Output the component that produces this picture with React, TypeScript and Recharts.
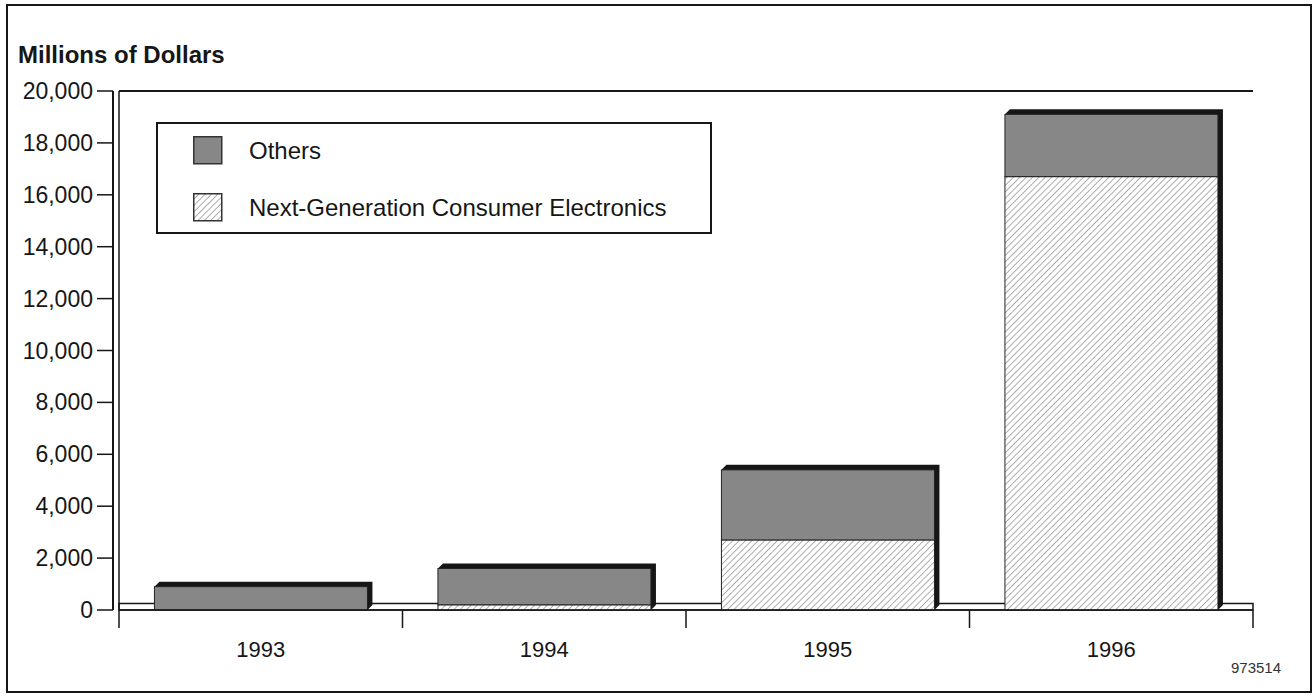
import { BarChart, Bar, XAxis, YAxis, Legend, ReferenceArea, ReferenceLine } from "recharts";

const years = ["1993", "1994", "1995", "1996"];
const nextGenValues = [0, 200, 2700, 16700];
const othersValues = [900, 1400, 2700, 2400];
const yTicks = [0, 2000, 4000, 6000, 8000, 10000, 12000, 14000, 16000, 18000, 20000];

const data = years.map((year, i) => ({
  year,
  nextGen: nextGenValues[i],
  others: othersValues[i],
}));

const FONT = "'Liberation Sans', Arial, Helvetica, sans-serif";
const INK = "#161616";
const OTHERS_FILL = "#878787";

// bar with a black depth shadow on top and right, like the old 3D print charts
function Bar3D(props: any) {
  const { x, y, width, height, fill } = props;
  if (!height || height <= 0) return null;
  const d = 5;
  const pts = `${x},${y} ${x + d},${y - d} ${x + width + d},${y - d} ${x + width + d},${y + height - d} ${x + width},${y + height}`;
  return (
    <g>
      <polygon points={pts} fill={INK} />
      <rect x={x} y={y} width={width} height={height} fill={fill} stroke="#222" strokeWidth={1} />
    </g>
  );
}

function YTick(props: any) {
  const { x, y, payload } = props;
  return (
    <text x={x} y={y} dy={8} textAnchor="end" fontSize={23} fontFamily={FONT} fill={INK}>
      {Number(payload.value).toLocaleString("en-US")}
    </text>
  );
}

function XTick(props: any) {
  const { x, y, payload, index } = props;
  const half = payload && payload.offset ? payload.offset : 142;
  const last = index === years.length - 1;
  return (
    <g>
      <line x1={x - half} x2={x - half} y1={y} y2={y + 18} stroke={INK} strokeWidth={1.5} />
      {last && <line x1={x + half} x2={x + half} y1={y} y2={y + 18} stroke={INK} strokeWidth={1.5} />}
      <text x={x} y={y + 47} textAnchor="middle" fontSize={22} fontFamily={FONT} fill={INK}>
        {payload.value}
      </text>
    </g>
  );
}

function LegendBox() {
  const item = (top: number, label: string, hatch: boolean) => (
    <div style={{ position: "absolute", left: 35, top, display: "flex", alignItems: "center" }}>
      <svg width={30} height={29} style={{ display: "block" }}>
        <defs>
          <pattern id="legendHatch" patternUnits="userSpaceOnUse" width={4.5} height={4.5} patternTransform="rotate(45)">
            <rect width={4.5} height={4.5} fill="#fff" />
            <line x1={0} y1={0} x2={0} y2={4.5} stroke="#777" strokeWidth={1.2} />
          </pattern>
        </defs>
        <rect x={0.75} y={0.75} width={28} height={27} fill={hatch ? "url(#legendHatch)" : OTHERS_FILL} stroke="#333" strokeWidth={1.5} />
      </svg>
      <span style={{ marginLeft: 26, fontSize: 24, fontFamily: FONT, color: INK, whiteSpace: "nowrap" }}>{label}</span>
    </div>
  );
  return (
    <div style={{ position: "relative", width: 552, height: 108, border: `2px solid ${INK}`, background: "#fff" }}>
      {item(12, "Others", false)}
      {item(69, "Next-Generation Consumer Electronics", true)}
    </div>
  );
}

export default function App() {
  return (
    <div style={{ position: "absolute", left: 0, top: 0, width: 1316, height: 697, background: "#fff", overflow: "hidden" }}>
      <div
        style={{
          position: "absolute",
          left: 6,
          top: 4,
          width: 1302,
          height: 685,
          border: `2.5px solid ${INK}`,
        }}
      />
      <div
        style={{
          position: "absolute",
          left: 18,
          top: 44,
          fontFamily: FONT,
          fontWeight: 700,
          fontSize: 24,
          lineHeight: "22px",
          color: INK,
          whiteSpace: "nowrap",
        }}
      >
        Millions of Dollars
      </div>
      <div
        style={{
          position: "absolute",
          left: 1231,
          top: 659,
          fontFamily: FONT,
          fontSize: 15,
          color: "#333",
        }}
      >
        973514
      </div>
      <div style={{ position: "absolute", left: 0, top: 0 }}>
        <BarChart
          width={1316}
          height={697}
          data={data}
          margin={{ top: 91, right: 63, bottom: 37, left: 13 }}
          barCategoryGap="12.5%"
        >
          <defs>
            <pattern id="hatch" patternUnits="userSpaceOnUse" width={4.5} height={4.5} patternTransform="rotate(45)">
              <rect width={4.5} height={4.5} fill="#fff" />
              <line x1={0} y1={0} x2={0} y2={4.5} stroke="#6e6e6e" strokeWidth={1.1} />
            </pattern>
          </defs>
          <XAxis
            xAxisId="cat"
            dataKey="year"
            height={50}
            tickSize={0}
            tickMargin={0}
            tickLine={false}
            axisLine={{ stroke: INK, strokeWidth: 1.5 }}
            tick={<XTick />}
            interval={0}
          />
          <YAxis
            yAxisId="inner"
            width={6}
            domain={[0, 20000]}
            ticks={yTicks}
            tick={false}
            tickLine={false}
            axisLine={{ stroke: INK, strokeWidth: 1.5 }}
          />
          <YAxis
            yAxisId="val"
            width={100}
            domain={[0, 20000]}
            ticks={yTicks}
            interval={0}
            tickSize={16}
            tickMargin={4}
            tickLine={{ stroke: INK, strokeWidth: 1.5 }}
            axisLine={{ stroke: INK, strokeWidth: 2 }}
            tick={<YTick />}
          />
          <YAxis
            yAxisId="right"
            orientation="right"
            width={0}
            domain={[0, 20000]}
            tick={false}
            tickLine={false}
            axisLine={{ stroke: INK, strokeWidth: 2 }}
          />
          <ReferenceLine xAxisId="cat" yAxisId="val" y={20000} stroke={INK} strokeWidth={2} ifOverflow="visible" />
          <ReferenceArea
            xAxisId="cat"
            yAxisId="val"
            y1={0}
            y2={250}
            fill="#fff"
            fillOpacity={1}
            stroke={INK}
            strokeWidth={1.5}
          />
          <Legend
            layout="vertical"
            align="center"
            verticalAlign="middle"
            content={<LegendBox />}
            wrapperStyle={{ left: 156, top: 122, width: 556, height: 112 }}
          />
          <Bar
            xAxisId="cat"
            yAxisId="val"
            dataKey="nextGen"
            name="Next-Generation Consumer Electronics"
            stackId="a"
            fill="url(#hatch)"
            shape={<Bar3D />}
            isAnimationActive={false}
          />
          <Bar
            xAxisId="cat"
            yAxisId="val"
            dataKey="others"
            name="Others"
            stackId="a"
            fill={OTHERS_FILL}
            shape={<Bar3D />}
            isAnimationActive={false}
          />
        </BarChart>
      </div>
    </div>
  );
}
